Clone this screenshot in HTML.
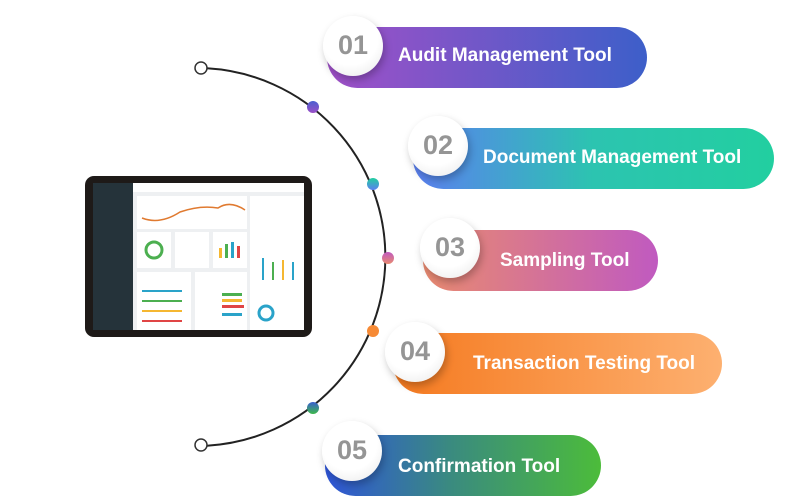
<!DOCTYPE html>
<html><head><meta charset="utf-8"><style>
body{margin:0;width:800px;height:500px;background:#fff;position:relative;overflow:hidden;font-family:"Liberation Sans",sans-serif}
.pill{position:absolute;height:61px;border-radius:31px;}
.lbl{position:absolute;color:#fff;font-weight:bold;font-size:19px;white-space:nowrap;}
.num{position:absolute;width:60px;height:60px;border-radius:50%;background:radial-gradient(circle at 45% 35%,#fff 55%,#e6e6e6);box-shadow:2px 4px 8px rgba(0,0,0,.25);color:#959595;font-weight:bold;font-size:27px;text-align:center;line-height:58px;}
</style></head><body>
<svg width="800" height="500" style="position:absolute;left:0;top:0">
<defs>
<linearGradient id="d1" x1="0" y1="0" x2="0" y2="1"><stop offset="0" stop-color="#4a5fd0"/><stop offset="1" stop-color="#9b4fc6"/></linearGradient>
<linearGradient id="d2" x1="0" y1="0" x2="0" y2="1"><stop offset="0" stop-color="#22cfa0"/><stop offset="1" stop-color="#5b7ff0"/></linearGradient>
<linearGradient id="d3" x1="0" y1="0" x2="0" y2="1"><stop offset="0" stop-color="#c05ac0"/><stop offset="1" stop-color="#e88a70"/></linearGradient>
<linearGradient id="d5" x1="0" y1="0" x2="0" y2="1"><stop offset="0" stop-color="#3a5fd0"/><stop offset="1" stop-color="#3cb84a"/></linearGradient>
</defs>
<path d="M207 68.3 A189 189 0 0 1 207 445.7" fill="none" stroke="#222" stroke-width="2"/>
<circle cx="201" cy="68" r="6" fill="#fff" stroke="#333" stroke-width="1.5"/>
<circle cx="201" cy="445" r="6" fill="#fff" stroke="#333" stroke-width="1.5"/>
<circle cx="313" cy="107" r="6" fill="url(#d1)"/>
<circle cx="373" cy="184" r="6" fill="url(#d2)"/>
<circle cx="388" cy="258" r="6" fill="url(#d3)"/>
<circle cx="373" cy="331" r="6" fill="#f68a35"/>
<circle cx="313" cy="408" r="6" fill="url(#d5)"/>
<rect x="85" y="176" width="227" height="161" rx="9" fill="#1e1a18"/>
<rect x="93" y="183" width="40" height="147" fill="#25333a"/>
<rect x="133" y="183" width="171" height="147" fill="#eef0f2"/>
<rect x="133" y="183" width="171" height="9" fill="#fff"/>
<rect x="137" y="196" width="110" height="33" fill="#fff"/>
<path d="M142 218 Q160 225 180 212 Q200 205 218 208 Q230 200 245 210" stroke="#e07a30" stroke-width="1.5" fill="none"/>
<rect x="137" y="232" width="34" height="36" fill="#fff"/><circle cx="154" cy="250" r="8" fill="none" stroke="#4caf50" stroke-width="3"/>
<rect x="175" y="232" width="34" height="36" fill="#fff"/>
<rect x="213" y="232" width="34" height="36" fill="#fff"/>
<rect x="219" y="248" width="3" height="10" fill="#f5b731"/><rect x="225" y="244" width="3" height="14" fill="#4caf50"/><rect x="231" y="242" width="3" height="16" fill="#2aa3c9"/><rect x="237" y="246" width="3" height="12" fill="#e04545"/>
<rect x="137" y="272" width="54" height="58" fill="#fff"/>
<rect x="195" y="272" width="52" height="58" fill="#fff"/>
<rect x="250" y="196" width="54" height="134" fill="#fff"/>
<rect x="142" y="290" width="40" height="2" fill="#2aa3c9"/><rect x="142" y="300" width="40" height="2" fill="#4caf50"/><rect x="142" y="310" width="40" height="2" fill="#f5b731"/><rect x="142" y="320" width="40" height="2" fill="#e04545"/>
<rect x="222" y="293" width="20" height="3" fill="#4caf50"/><rect x="222" y="299" width="20" height="3" fill="#f5b731"/><rect x="222" y="305" width="22" height="3" fill="#e04545"/><rect x="222" y="313" width="20" height="3" fill="#2aa3c9"/>
<rect x="262" y="258" width="2" height="22" fill="#2aa3c9"/><rect x="272" y="262" width="2" height="18" fill="#4caf50"/><rect x="282" y="260" width="2" height="20" fill="#f5b731"/><rect x="292" y="262" width="2" height="18" fill="#2aa3c9"/>
<circle cx="266" cy="313" r="7" fill="none" stroke="#2aa3c9" stroke-width="3"/>
</svg>
<div class="pill" style="left:327px;top:27px;width:320px;background:linear-gradient(90deg,#a050c8,#3d5fc9)"></div>
<div class="pill" style="left:413px;top:128px;width:361px;background:linear-gradient(90deg,#5b7ff0,#2cc4b0 50%,#22cfa0)"></div>
<div class="pill" style="left:423px;top:230px;width:235px;background:linear-gradient(90deg,#e88a70,#c05ac0)"></div>
<div class="pill" style="left:393px;top:333px;width:329px;background:linear-gradient(90deg,#f57a20,#fdb070)"></div>
<div class="pill" style="left:325px;top:435px;width:276px;background:linear-gradient(90deg,#2f55d8,#3a8a80 45%,#4cbc3a)"></div>
<div class="num" style="left:323px;top:16px">01</div>
<div class="num" style="left:408px;top:116px">02</div>
<div class="num" style="left:420px;top:218px">03</div>
<div class="num" style="left:385px;top:322px">04</div>
<div class="num" style="left:322px;top:421px">05</div>
<div class="lbl" style="left:398px;top:45px">Audit Management Tool</div>
<div class="lbl" style="left:483px;top:147px">Document Management Tool</div>
<div class="lbl" style="left:500px;top:250px">Sampling Tool</div>
<div class="lbl" style="left:473px;top:353px">Transaction Testing Tool</div>
<div class="lbl" style="left:398px;top:456px">Confirmation Tool</div>
</body></html>
